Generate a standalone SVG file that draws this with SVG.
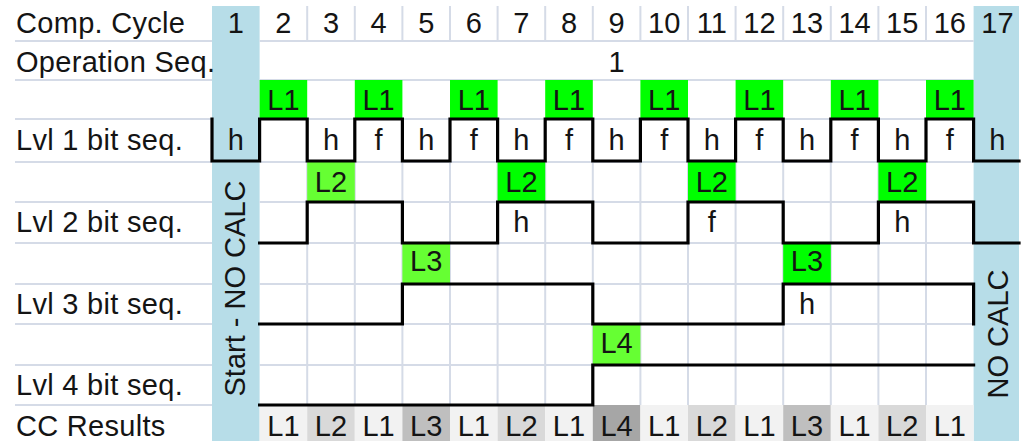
<svg xmlns="http://www.w3.org/2000/svg" width="1022" height="443" viewBox="0 0 1022 443">
<style>
text{font-family:"Liberation Sans",Arial,sans-serif;font-size:29px;fill:#141414}
.lbl{letter-spacing:0.3px}
.c{text-anchor:middle}
.grid{stroke:#d5dbe7;stroke-width:2;fill:none}
.wave{stroke:#000;stroke-width:3.2;fill:none;stroke-linejoin:miter;stroke-linecap:square}
.blue{fill:#b7dde8}
.g1{fill:#00ff00}
.g2{fill:#66ff33}
.r1{fill:#f2f2f2}.r2{fill:#d9d9d9}.r3{fill:#bfbfbf}.r4{fill:#a6a6a6}
</style>
<rect width="1022" height="443" fill="#fff"/>
<g id="special-columns">
<rect class="blue" x="212" y="6" width="47.6" height="435"/>
<rect class="blue" x="973.6" y="6" width="45.4" height="435"/>
</g>
<g id="gridlines">
<path class="grid" d="M15,41H212M15,80H212M15,119H212M15,162H212M15,202H212M15,243H212M15,284H212M15,324H212M15,365H212M15,405H212"/>
<path class="grid" d="M259.6,41H973.6M259.6,80H973.6M259.6,119H973.6M259.6,162H973.6M259.6,202H973.6M259.6,243H973.6M259.6,284H973.6M259.6,324H973.6M259.6,365H973.6"/>
<path class="grid" d="M307.2,6V41M354.8,6V41M402.4,6V41M450,6V41M497.6,6V41M545.2,6V41M592.8,6V41M640.4,6V41M688,6V41M735.6,6V41M783.2,6V41M830.8,6V41M878.4,6V41M926,6V41"/>
<path class="grid" d="M307.2,162V405M354.8,162V405M402.4,162V405M450,162V405M497.6,162V405M545.2,162V405M592.8,162V405M640.4,162V405M688,162V405M735.6,162V405M783.2,162V405M830.8,162V405M878.4,162V405M926,162V405"/>
</g>
<g id="row-labels">
<text class="lbl" x="16" y="33">Comp. Cycle</text>
<text class="lbl" x="16" y="72">Operation Seq.</text>
<text class="lbl" x="16" y="150">Lvl 1 bit seq.</text>
<text class="lbl" x="16" y="232">Lvl 2 bit seq.</text>
<text class="lbl" x="16" y="314">Lvl 3 bit seq.</text>
<text class="lbl" x="16" y="395">Lvl 4 bit seq.</text>
<text class="lbl" x="16" y="436">CC Results</text>
</g>
<g id="cycle-numbers">
<text class="c" x="235.8" y="33">1</text><text class="c" x="283.4" y="33">2</text><text class="c" x="331" y="33">3</text><text class="c" x="378.6" y="33">4</text><text class="c" x="426.2" y="33">5</text><text class="c" x="473.8" y="33">6</text><text class="c" x="521.4" y="33">7</text><text class="c" x="569" y="33">8</text><text class="c" x="616.6" y="33">9</text><text class="c" x="664.2" y="33">10</text><text class="c" x="711.8" y="33">11</text><text class="c" x="759.4" y="33">12</text><text class="c" x="807" y="33">13</text><text class="c" x="854.6" y="33">14</text><text class="c" x="902.2" y="33">15</text><text class="c" x="949.8" y="33">16</text><text class="c" x="997.4" y="33">17</text>
</g>
<g id="operation-seq">
<text class="c" x="616.6" y="72">1</text>
</g>
<g id="level1-marks">
<rect class="g1" x="259.6" y="80" width="47.6" height="39"/><text class="c" x="283.4" y="110">L1</text>
<rect class="g1" x="354.8" y="80" width="47.6" height="39"/><text class="c" x="378.6" y="110">L1</text>
<rect class="g1" x="450" y="80" width="47.6" height="39"/><text class="c" x="473.8" y="110">L1</text>
<rect class="g1" x="545.2" y="80" width="47.6" height="39"/><text class="c" x="569" y="110">L1</text>
<rect class="g1" x="640.4" y="80" width="47.6" height="39"/><text class="c" x="664.2" y="110">L1</text>
<rect class="g1" x="735.6" y="80" width="47.6" height="39"/><text class="c" x="759.4" y="110">L1</text>
<rect class="g1" x="830.8" y="80" width="47.6" height="39"/><text class="c" x="854.6" y="110">L1</text>
<rect class="g1" x="926" y="80" width="47.6" height="39"/><text class="c" x="949.8" y="110">L1</text>
</g>
<g id="level1-bits">
<text class="c" x="235.8" y="150">h</text><text class="c" x="331" y="150">h</text><text class="c" x="378.6" y="150">f</text><text class="c" x="426.2" y="150">h</text><text class="c" x="473.8" y="150">f</text><text class="c" x="521.4" y="150">h</text><text class="c" x="569" y="150">f</text><text class="c" x="616.6" y="150">h</text><text class="c" x="664.2" y="150">f</text><text class="c" x="711.8" y="150">h</text><text class="c" x="759.4" y="150">f</text><text class="c" x="807" y="150">h</text><text class="c" x="854.6" y="150">f</text><text class="c" x="902.2" y="150">h</text><text class="c" x="949.8" y="150">f</text><text class="c" x="997.4" y="150">h</text>
</g>
<g id="level2-marks">
<rect class="g2" x="307.2" y="162" width="47.6" height="40"/><text class="c" x="331" y="192">L2</text>
<rect class="g1" x="497.6" y="162" width="47.6" height="40"/><text class="c" x="521.4" y="192">L2</text>
<rect class="g1" x="688" y="162" width="47.6" height="40"/><text class="c" x="711.8" y="192">L2</text>
<rect class="g1" x="878.4" y="162" width="47.6" height="40"/><text class="c" x="902.2" y="192">L2</text>
</g>
<g id="level2-bits">
<text class="c" x="521.4" y="232">h</text><text class="c" x="711.8" y="232">f</text><text class="c" x="902.2" y="232">h</text>
</g>
<g id="level3-marks">
<rect class="g2" x="402.4" y="243" width="47.6" height="40"/><text class="c" x="426.2" y="271">L3</text>
<rect class="g1" x="783.2" y="243" width="47.6" height="40"/><text class="c" x="807" y="271">L3</text>
</g>
<g id="level3-bits">
<text class="c" x="807" y="314">h</text>
</g>
<g id="level4-marks">
<rect class="g2" x="592.8" y="324" width="47.6" height="40"/><text class="c" x="616.6" y="353">L4</text>
</g>
<g id="cc-results">
<rect class="r1" x="259.6" y="405" width="47.6" height="36"/><text class="c" x="283.4" y="436">L1</text>
<rect class="r2" x="307.2" y="405" width="47.6" height="36"/><text class="c" x="331" y="436">L2</text>
<rect class="r1" x="354.8" y="405" width="47.6" height="36"/><text class="c" x="378.6" y="436">L1</text>
<rect class="r3" x="402.4" y="405" width="47.6" height="36"/><text class="c" x="426.2" y="436">L3</text>
<rect class="r1" x="450" y="405" width="47.6" height="36"/><text class="c" x="473.8" y="436">L1</text>
<rect class="r2" x="497.6" y="405" width="47.6" height="36"/><text class="c" x="521.4" y="436">L2</text>
<rect class="r1" x="545.2" y="405" width="47.6" height="36"/><text class="c" x="569" y="436">L1</text>
<rect class="r4" x="592.8" y="405" width="47.6" height="36"/><text class="c" x="616.6" y="436">L4</text>
<rect class="r1" x="640.4" y="405" width="47.6" height="36"/><text class="c" x="664.2" y="436">L1</text>
<rect class="r2" x="688" y="405" width="47.6" height="36"/><text class="c" x="711.8" y="436">L2</text>
<rect class="r1" x="735.6" y="405" width="47.6" height="36"/><text class="c" x="759.4" y="436">L1</text>
<rect class="r3" x="783.2" y="405" width="47.6" height="36"/><text class="c" x="807" y="436">L3</text>
<rect class="r1" x="830.8" y="405" width="47.6" height="36"/><text class="c" x="854.6" y="436">L1</text>
<rect class="r2" x="878.4" y="405" width="47.6" height="36"/><text class="c" x="902.2" y="436">L2</text>
<rect class="r1" x="926" y="405" width="47.6" height="36"/><text class="c" x="949.8" y="436">L1</text>
</g>
<g id="no-calc-labels">
<text class="c" transform="translate(245,288.5) rotate(-90)">Start - NO CALC</text>
<text class="c" transform="translate(1008,334) rotate(-90)">NO CALC</text>
</g>
<g id="connectors">
<path id="wave-lvl1" class="wave" d="M212,119V161H259.6V119H307.2V161H354.8V119H402.4V161H450V119H497.6V161H545.2V119H592.8V161H640.4V119H688V161H735.6V119H783.2V161H830.8V119H878.4V161H926V119H973.6V161H1019"/>
<path id="wave-lvl2" class="wave" d="M259.6,243H307.2V202H402.4V243H497.6V202H592.8V243H688V202H783.2V243H878.4V202H973.6V243H1019"/>
<path id="wave-lvl3" class="wave" d="M259.6,324H402.4V284H592.8V324H783.2V284H973.6V324"/>
<path id="wave-lvl4" class="wave" d="M259.6,405H592.8V365H973.6"/>
</g>
</svg>
